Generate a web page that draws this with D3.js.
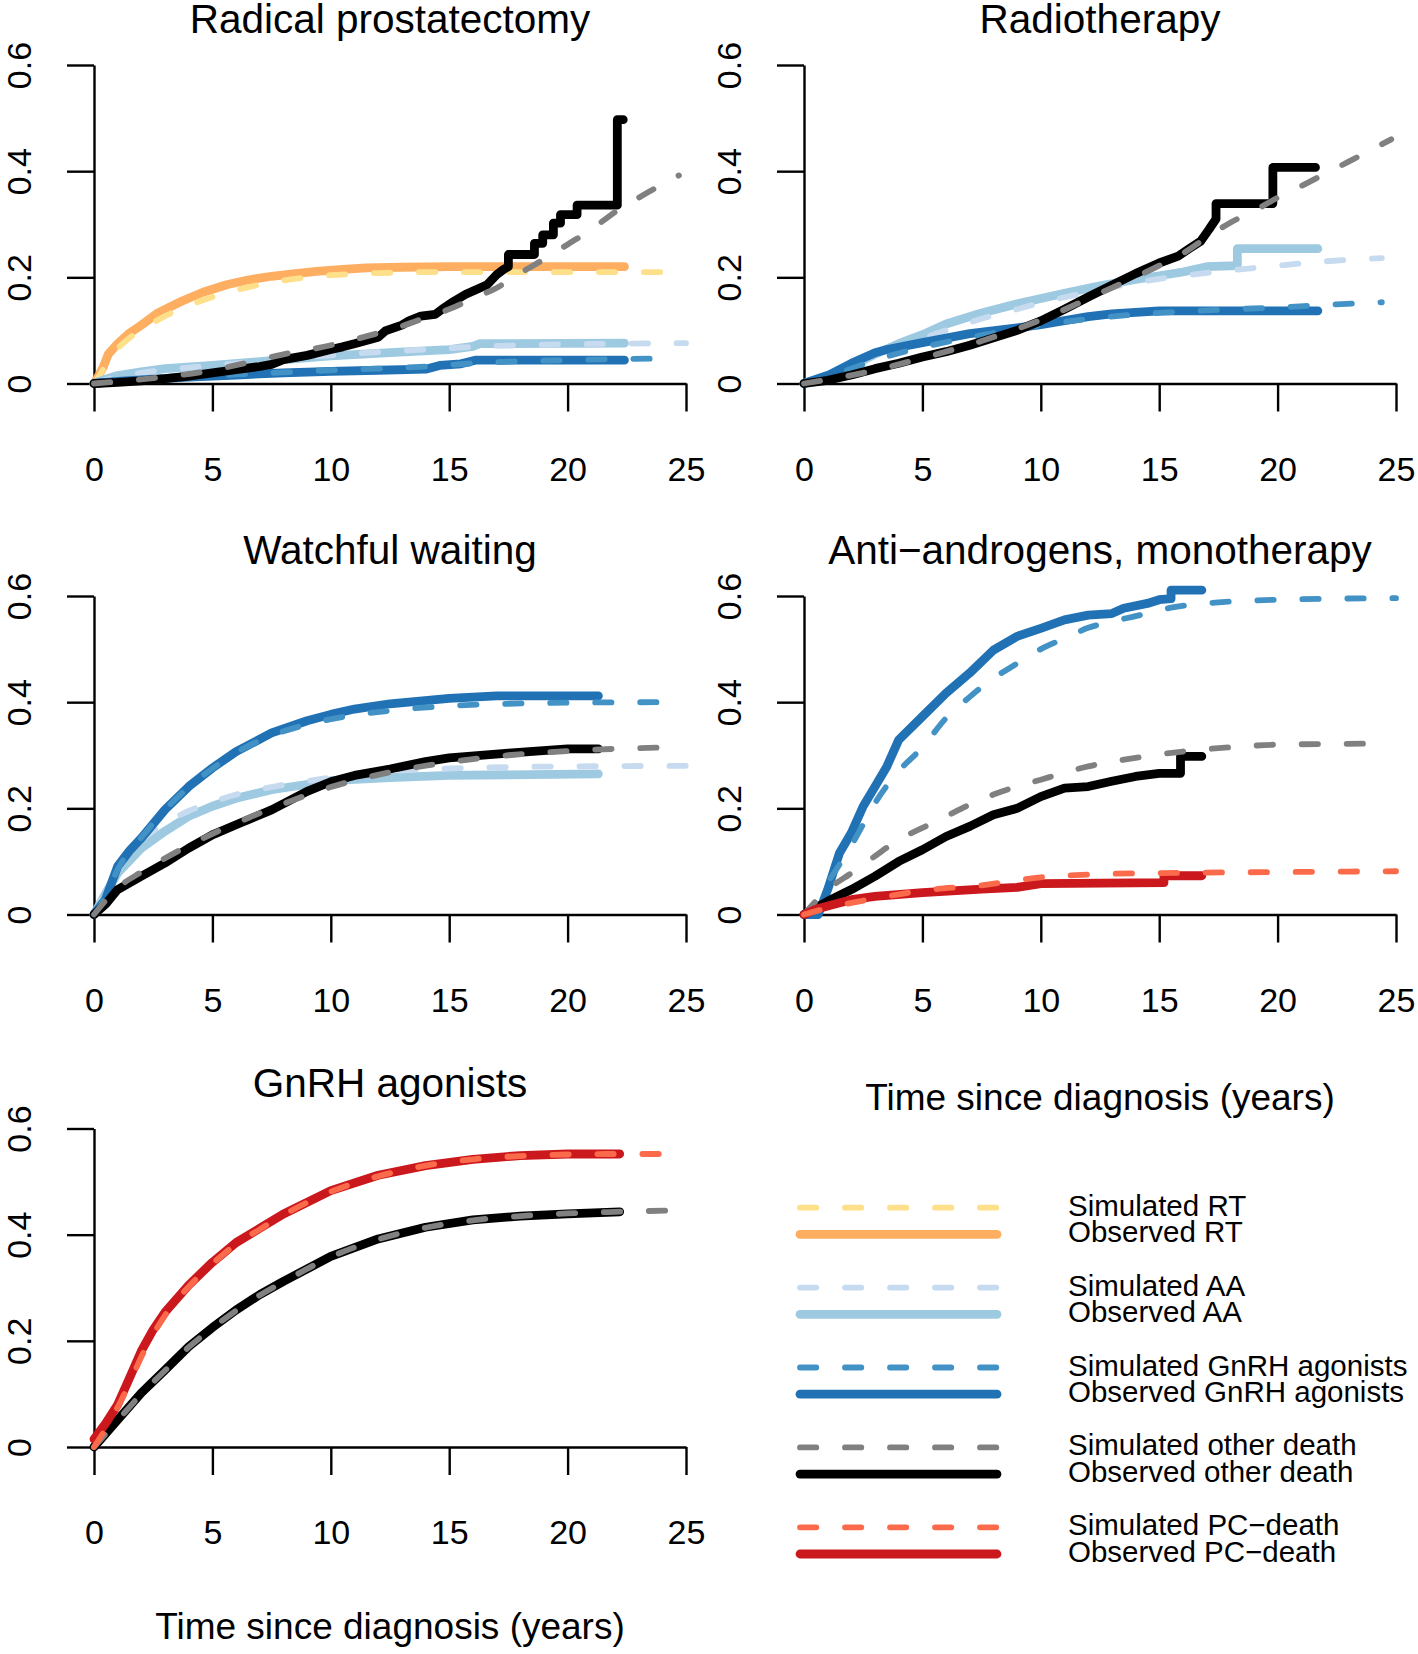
<!DOCTYPE html>
<html><head><meta charset="utf-8">
<script src="https://cdn.jsdelivr.net/npm/d3@7"></script>
<style>
body{margin:0;background:#fff}
svg{display:block}
text{font-family:"Liberation Sans",Arial,Helvetica,sans-serif;fill:#000}
</style>
</head><body>
<svg id="chart" width="1418" height="1654"></svg>
<script>
// ---------------- DATA ----------------
const timeTicks = [0, 5, 10, 15, 20, 25];
const probTicks = [0, 0.2, 0.4, 0.6];
const panelTitles = ["Radical prostatectomy", "Radiotherapy", "Watchful waiting", "Anti\u2212androgens, monotherapy", "GnRH agonists"];
const xAxisTitle = "Time since diagnosis (years)";
const legendLabels = [
  ["Simulated RT", "Observed RT"],
  ["Simulated AA", "Observed AA"],
  ["Simulated GnRH agonists", "Observed GnRH agonists"],
  ["Simulated other death", "Observed other death"],
  ["Simulated PC\u2212death", "Observed PC\u2212death"]
];

// Panel 1: Radical prostatectomy  [time, cumulative incidence]
const rpObsRT = [[0,0],[0.2,0.015],[0.4,0.032],[0.6,0.055],[1,0.075],[1.5,0.095],[2,0.11],[2.7,0.133],[3.7,0.155],[4.6,0.172],[5.6,0.186],[6.5,0.195],[7.5,0.202],[8.5,0.207],[9.4,0.211],[10.5,0.215],[11.5,0.218],[13,0.219],[15,0.22],[18,0.22],[22.4,0.22]];
const rpSimRT = [[0,0],[0.3,0.02],[0.6,0.045],[1,0.066],[1.5,0.086],[2,0.101],[3,0.127],[4,0.147],[5,0.163],[6,0.176],[7,0.186],[8,0.194],[9,0.2],[10,0.204],[12,0.208],[15,0.21],[20,0.21],[24.8,0.21]];
const rpObsAA = [[0,0],[0.5,0.008],[1,0.015],[2,0.022],[3,0.028],[5,0.034],[7.5,0.043],[10,0.052],[12.5,0.058],[15,0.064],[16,0.07],[16.3,0.075],[22.4,0.076]];
const rpSimAA = [[0,0],[1,0.012],[2,0.02],[4,0.03],[6,0.038],[8,0.046],[10,0.053],[12,0.059],[14,0.064],[16,0.069],[18,0.072],[20,0.074],[22,0.075],[25,0.076]];
const rpObsGnRH = [[0,0],[1,0.004],[2,0.007],[4,0.012],[6,0.016],[8,0.02],[10,0.023],[12,0.025],[14,0.027],[14.6,0.034],[15.5,0.037],[16.1,0.044],[22.4,0.044]];
const rpSimGnRH = [[0,0],[2,0.008],[4,0.013],[6,0.017],[8,0.021],[10,0.025],[12,0.028],[14,0.032],[16,0.038],[18,0.042],[20,0.044],[22,0.046],[24.5,0.047]];
const rpObsOther = [[0,0],[1,0.002],[2,0.005],[3,0.009],[4,0.014],[5,0.02],[6,0.026],[7,0.032],[7.5,0.036],[8,0.045],[9,0.053],[10,0.064],[10.5,0.069],[11,0.075],[12,0.087],[12.3,0.099],[13,0.11],[13.3,0.118],[13.8,0.127],[14.4,0.13],[14.7,0.14],[15.2,0.155],[15.7,0.168],[16.2,0.178],[16.6,0.186],[17,0.205],[17.3,0.215],[17.5,0.22],[17.5,0.243],[18.6,0.243],[18.6,0.264],[18.95,0.264],[18.95,0.28],[19.4,0.28],[19.4,0.302],[19.7,0.302],[19.7,0.318],[20.4,0.318],[20.4,0.336],[22.1,0.336],[22.1,0.497],[22.35,0.497]];
const rpSimOther = [[0,0],[2.5,0.01],[5,0.025],[7,0.045],[8,0.055],[10,0.072],[12,0.095],[13,0.108],[14,0.124],[15,0.14],[16,0.16],[17,0.18],[18,0.208],[19,0.234],[20,0.262],[21,0.29],[22,0.323],[23,0.35],[24.7,0.392]];

// Panel 2: Radiotherapy
const rtObsAA = [[0,0],[1,0.015],[2,0.033],[3,0.055],[4,0.075],[5,0.092],[6,0.112],[7.5,0.133],[9,0.15],[10,0.16],[11,0.17],[12.5,0.184],[14,0.196],[15,0.203],[16,0.21],[17,0.22],[18.3,0.222],[18.3,0.254],[21.7,0.254]];
const rtSimAA = [[0,0],[1,0.014],[2,0.03],[3,0.05],[4,0.068],[5,0.085],[6,0.1],[7.5,0.122],[9,0.14],[10,0.152],[12,0.172],[14,0.19],[16,0.203],[18,0.213],[20,0.222],[22,0.23],[24.4,0.236]];
const rtObsGnRH = [[0,0],[1,0.015],[2,0.038],[3,0.058],[3.5,0.064],[5,0.077],[7,0.094],[9,0.105],[10,0.111],[12,0.126],[13,0.131],[15,0.137],[21.7,0.137]];
const rtSimGnRH = [[0,0],[1,0.012],[2,0.028],[3,0.044],[4,0.057],[5,0.068],[7.5,0.091],[10,0.11],[12.5,0.124],[15,0.133],[17.5,0.139],[20,0.143],[22,0.148],[24.4,0.153]];
const rtObsOther = [[0,0],[1,0.006],[2,0.016],[3,0.028],[4,0.038],[5,0.05],[6,0.06],[7,0.072],[8,0.086],[9,0.1],[10,0.118],[11,0.14],[12,0.163],[13,0.185],[14,0.207],[15,0.227],[15.8,0.24],[16.3,0.255],[16.75,0.268],[17.1,0.29],[17.4,0.31],[17.4,0.339],[19.8,0.339],[19.8,0.407],[21.6,0.407]];
const rtSimOther = [[0,0],[2.5,0.02],[5,0.048],[7.5,0.08],[10,0.12],[12.5,0.17],[15,0.222],[16,0.245],[17,0.275],[18,0.303],[19,0.325],[20,0.35],[21,0.372],[22,0.395],[23,0.418],[24.8,0.46]];

// Panel 3: Watchful waiting
const wwObsAA = [[0,0],[0.5,0.04],[1,0.078],[2,0.125],[3,0.157],[4,0.185],[5,0.204],[6,0.219],[7.5,0.235],[10,0.252],[12.5,0.258],[15,0.262],[21.3,0.265]];
const wwSimAA = [[0,0],[1,0.085],[2,0.14],[3,0.172],[4,0.195],[5,0.212],[6,0.226],[7.5,0.24],[10,0.258],[12.5,0.27],[15,0.275],[20,0.279],[25,0.28]];
const wwObsGnRH = [[0,0],[0.5,0.03],[1,0.091],[1.5,0.12],[2,0.144],[3,0.1975],[4,0.241],[5,0.276],[6,0.307],[7.5,0.342],[9,0.365],[10,0.377],[11,0.387],[12.5,0.397],[15,0.407],[17,0.412],[21.3,0.412]];
const wwSimGnRH = [[0,0],[0.5,0.035],[1,0.085],[2,0.145],[3,0.197],[4,0.24],[5,0.275],[6,0.305],[7.5,0.337],[9,0.358],[10,0.368],[12.5,0.384],[15,0.393],[17.5,0.397],[20,0.399],[24.5,0.4]];
const wwObsOther = [[0,0],[0.5,0.02],[1,0.047],[2,0.072],[3,0.097],[4,0.125],[5,0.15],[6,0.169],[7.5,0.197],[9,0.232],[10,0.25],[11,0.262],[12.5,0.274],[14,0.288],[15,0.295],[17.5,0.304],[20,0.312],[21.3,0.312]];
const wwSimOther = [[0,0],[1,0.05],[2,0.08],[3,0.106],[4,0.13],[5,0.152],[6,0.172],[7.5,0.2],[9,0.225],[10,0.24],[12.5,0.268],[15,0.287],[17.5,0.3],[20,0.308],[22,0.312],[24.5,0.315]];

// Panel 4: Anti-androgens, monotherapy
const aaObsGnRH = [[0,0],[0.6,0],[1,0.047],[1.5,0.116],[2,0.154],[2.5,0.204],[3,0.241],[3.5,0.279],[4,0.329],[5,0.373],[6,0.417],[7,0.455],[8,0.498],[9,0.524],[10,0.539],[11,0.555],[12,0.564],[13,0.567],[13.5,0.577],[14.5,0.586],[15,0.593],[15.5,0.595],[15.5,0.611],[16.8,0.611]];
const aaSimGnRH = [[0,0],[0.5,0.025],[1,0.06],[2,0.13],[2.5,0.17],[3,0.21],[4,0.27],[5,0.315],[6,0.37],[7,0.41],[8,0.445],[9,0.473],[10,0.5],[11,0.52],[12,0.54],[13,0.552],[14,0.562],[15.5,0.578],[17.5,0.588],[20,0.593],[25,0.596]];
const aaObsOther = [[0,0],[1,0.025],[2,0.047],[3,0.072],[4,0.1],[5,0.122],[6,0.147],[7,0.166],[8,0.188],[9,0.2],[10,0.222],[11,0.238],[12,0.241],[13,0.251],[14,0.26],[15,0.266],[15.9,0.266],[15.9,0.298],[16.8,0.298]];
const aaSimOther = [[0,0],[1,0.047],[2,0.078],[3,0.11],[4,0.141],[5,0.163],[6,0.185],[7,0.207],[8,0.226],[10,0.254],[12,0.279],[14,0.295],[16,0.307],[18,0.315],[20,0.32],[24.5,0.322]];
const aaObsPC = [[0,0],[0.5,0.01],[1,0.016],[2,0.028],[3,0.034],[5,0.041],[7.5,0.048],[9,0.051],[10,0.058],[15.2,0.06],[15.2,0.073],[16.8,0.073]];
const aaSimPC = [[0,0],[1,0.012],[2,0.022],[3,0.03],[4,0.038],[5,0.045],[7.5,0.055],[10,0.07],[12.5,0.076],[15,0.078],[20,0.08],[25,0.0815]];

// Panel 5: GnRH agonists
const gnObsOther = [[0,0],[1,0.051],[2,0.102],[3,0.145],[4,0.189],[5,0.225],[6,0.258],[7,0.287],[8,0.312],[10,0.359],[12,0.392],[14,0.414],[16,0.428],[18,0.435],[20,0.439],[22.2,0.443]];
const gnSimOther = [[0,0],[1,0.05],[2,0.1],[3,0.144],[4,0.188],[5,0.224],[6,0.257],[7,0.286],[8,0.311],[10,0.358],[12,0.391],[14,0.413],[16,0.427],[18,0.435],[20,0.44],[22,0.443],[25,0.446]];
const gnObsPC = [[0,0.015],[0.5,0.045],[1,0.08],[1.5,0.13],[2,0.181],[2.5,0.221],[3,0.254],[4,0.305],[5,0.348],[6,0.385],[7,0.412],[8,0.439],[10,0.483],[12,0.512],[14,0.53],[16,0.542],[18,0.549],[20,0.552],[22.2,0.552]];
const gnSimPC = [[0,0],[0.5,0.035],[1,0.075],[1.5,0.12],[2,0.17],[2.5,0.212],[3,0.248],[4,0.302],[5,0.345],[6,0.382],[7,0.41],[8,0.437],[10,0.481],[12,0.51],[14,0.53],[16,0.542],[18,0.548],[20,0.551],[22,0.552],[24.5,0.552]];

// ---------------- STYLE / LAYOUT ----------------
const colors = {
  RT:    {sim: "#fee08b", obs: "#fdae61"},
  AA:    {sim: "#c6dbef", obs: "#9ecae1"},
  GnRH:  {sim: "#4292c6", obs: "#2171b5"},
  other: {sim: "#808080", obs: "#000000"},
  PC:    {sim: "#fb6a4a", obs: "#cb181d"}
};
const kindOrder = ["RT", "AA", "GnRH", "other", "PC"];
const obsWidth = 8.8, simWidth = 5.8, simDash = "16.3,28.7";

const panels = [
  {title: panelTitles[0], x0: 94, y0: 65, series: {RT: [rpObsRT, rpSimRT], AA: [rpObsAA, rpSimAA], GnRH: [rpObsGnRH, rpSimGnRH], other: [rpObsOther, rpSimOther]}},
  {title: panelTitles[1], x0: 804, y0: 65, series: {AA: [rtObsAA, rtSimAA], GnRH: [rtObsGnRH, rtSimGnRH], other: [rtObsOther, rtSimOther]}},
  {title: panelTitles[2], x0: 94, y0: 596, series: {AA: [wwObsAA, wwSimAA], GnRH: [wwObsGnRH, wwSimGnRH], other: [wwObsOther, wwSimOther]}},
  {title: panelTitles[3], x0: 804, y0: 596, series: {GnRH: [aaObsGnRH, aaSimGnRH], other: [aaObsOther, aaSimOther], PC: [aaObsPC, aaSimPC]}},
  {title: panelTitles[4], x0: 94, y0: 1128.5, series: {other: [gnObsOther, gnSimOther], PC: [gnObsPC, gnSimPC]}}
];
const W = 592, H = 318.5;

const svg = d3.select("#chart");
svg.append("rect").attr("width", 1418).attr("height", 1654).attr("fill", "#fff");

panels.forEach(p => {
  const x = d3.scaleLinear().domain([0, 25]).range([p.x0, p.x0 + W]);
  const y = d3.scaleLinear().domain([0, 0.6]).range([p.y0 + H, p.y0]);
  const g = svg.append("g");

  // axes
  const xa = g.append("g").attr("transform", `translate(0,${y(0)})`)
    .call(d3.axisBottom(x).tickValues(timeTicks).tickSize(28).tickSizeOuter(0).tickFormat(d3.format("d")));
  xa.selectAll("text").attr("y", 97).attr("dy", null).style("font-size", "34px");
  const ya = g.append("g").attr("transform", `translate(${x(0)},0)`)
    .call(d3.axisLeft(y).tickValues(probTicks).tickSize(27).tickSizeOuter(0).tickFormat(d => d === 0 ? "0" : d3.format(".1f")(d)));
  ya.selectAll("text").attr("x", null).attr("dy", null).attr("text-anchor", "middle")
    .attr("transform", "translate(-63,0) rotate(-90)").style("font-size", "34px");
  [xa, ya].forEach(a => {
    a.attr("font-family", null).attr("font-size", null);
    a.selectAll("path,line").attr("stroke", "#000").attr("stroke-width", 2.4);
  });

  // title
  g.append("text").attr("x", (x(0) + x(25)) / 2).attr("y", p.y0 - 32)
    .attr("text-anchor", "middle").style("font-size", "40.5px").text(p.title);

  // curves
  const lineObs = d3.line().x(d => x(d[0])).y(d => y(d[1])).curve(d3.curveLinear);
  const lineSim = d3.line().x(d => x(d[0])).y(d => y(d[1])).curve(d3.curveMonotoneX);
  kindOrder.forEach(k => {
    const s = p.series[k];
    if (!s) return;
    g.append("path").attr("d", lineObs(s[0])).attr("fill", "none")
      .attr("stroke", colors[k].obs).attr("stroke-width", obsWidth)
      .attr("stroke-linecap", "round").attr("stroke-linejoin", "round");
    g.append("path").attr("d", lineSim(s[1])).attr("fill", "none")
      .attr("stroke", colors[k].sim).attr("stroke-width", simWidth)
      .attr("stroke-dasharray", simDash)
      .attr("stroke-linecap", "round").attr("stroke-linejoin", "round");
  });
});

// axis titles
svg.append("text").attr("x", 390).attr("y", 1639).attr("text-anchor", "middle").style("font-size", "37px").text(xAxisTitle);
svg.append("text").attr("x", 1100).attr("y", 1110).attr("text-anchor", "middle").style("font-size", "37px").text(xAxisTitle);

// legend
const legY = d3.scaleLinear().domain([0, 4]).range([1207.7, 1527.3]);
kindOrder.forEach((k, i) => {
  const ys = legY(i), yo = ys + 26.7;
  svg.append("line").attr("x1", 800).attr("x2", 997).attr("y1", ys).attr("y2", ys)
    .attr("stroke", colors[k].sim).attr("stroke-width", simWidth)
    .attr("stroke-dasharray", simDash).attr("stroke-linecap", "round");
  svg.append("line").attr("x1", 800).attr("x2", 997).attr("y1", yo).attr("y2", yo)
    .attr("stroke", colors[k].obs).attr("stroke-width", obsWidth).attr("stroke-linecap", "round");
  svg.append("text").attr("x", 1068).attr("y", ys + 8).style("font-size", "29.5px").text(legendLabels[i][0]);
  svg.append("text").attr("x", 1068).attr("y", yo + 8).style("font-size", "29.5px").text(legendLabels[i][1]);
});
</script>
</body></html>
